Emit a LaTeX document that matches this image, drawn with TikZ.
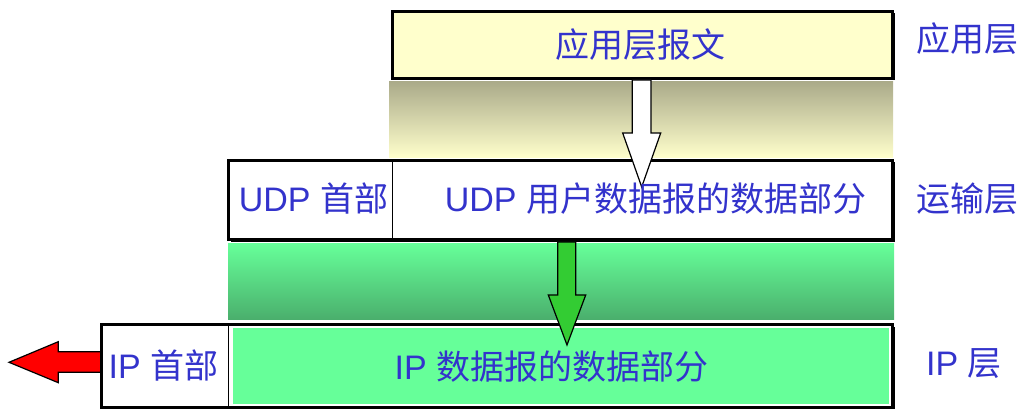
\documentclass[tikz,border=0pt]{standalone}
\usepackage{fontspec}
\setmainfont{Liberation Sans}
\newfontfamily\zh{Noto Sans CJK SC}
\definecolor{txtblue}{HTML}{3333CC}
\definecolor{paleyellow}{HTML}{FFFFCC}
\definecolor{khaki}{HTML}{ABAB8A}
\definecolor{mint}{HTML}{66FF99}
\definecolor{darkmint}{HTML}{4AAE6C}
\definecolor{arrowgreen}{HTML}{33CC33}

\tikzset{
  layer/.style={draw=black, line width=2.25pt},
  lbl/.style={text=txtblue, font=\fontsize{25.5}{30}\selectfont, inner sep=0pt},
  blockarrow/.style={draw=black, line width=0.9pt, line join=miter},
}

\begin{document}
\begin{tikzpicture}[x=0.75pt,y=-0.75pt]
  \useasboundingbox (0,0) rectangle (1026,420);
  % bands between the layers
  \shade[top color=khaki, bottom color=paleyellow] (389,82) rectangle (893,158);
  \shade[top color=mint, bottom color=darkmint] (228,244) rectangle (894,320);

  % application layer
  \fill (394.5,13.5) rectangle (894.5,80.5);
  \draw[layer, fill=paleyellow] (392.5,11.5) rectangle (892.5,78.5);

  % transport layer
  \fill (230.5,162.5) rectangle (894.5,242);
  \draw[layer, fill=white] (228.5,160.5) rectangle (892.5,240);
  \draw[line width=0.75pt] (392.3,160.5) -- (392.3,240);

  % red arrow out of the IP layer
  \draw[blockarrow, fill=red] (101,351.7) -- (58.3,351.7) -- (58.3,341.7) -- (9,362.3)
    -- (58.3,382.7) -- (58.3,372.3) -- (101,372.3) -- cycle;

  % IP layer
  \fill (103.7,327) rectangle (894.5,409.5);
  \draw[layer, fill=white] (101.7,325) rectangle (892.5,407.5);
  \fill[mint] (233,328) rectangle (889,404.5);
  \draw[line width=0.75pt] (228.3,325) -- (228.3,407.5);

  % arrows down
  \draw[blockarrow, fill=white] (632.3,80) -- (632.3,133) -- (622.7,133) -- (641.7,187)
    -- (660.7,133) -- (651,133) -- (651,80) -- cycle;
  \draw[blockarrow, fill=arrowgreen] (557.7,242) -- (557.7,295) -- (548.3,295) -- (567,345)
    -- (585.7,295) -- (575.7,295) -- (575.7,242) -- cycle;

  % texts
  \node[lbl] (appmsg) at (640,45) {\zh 应用层报文};
  \node[lbl] (udphdr) at (313.5,199) {UDP \zh 首部};
  \node[lbl] (udpdata) at (655.5,199) {UDP \zh 用户数据报的数据部分};
  \node[lbl] (iphdr) at (163.5,366) {IP \zh 首部};
  \node[lbl] (ipdata) at (551.5,367) {IP \zh 数据报的数据部分};

  \node[lbl] (app) at (967,39) {\zh 应用层};
  \node[lbl] (trans) at (967,199) {\zh 运输层};
  \node[lbl] (net) at (964,364) {IP \zh 层};
\end{tikzpicture}
\end{document}
